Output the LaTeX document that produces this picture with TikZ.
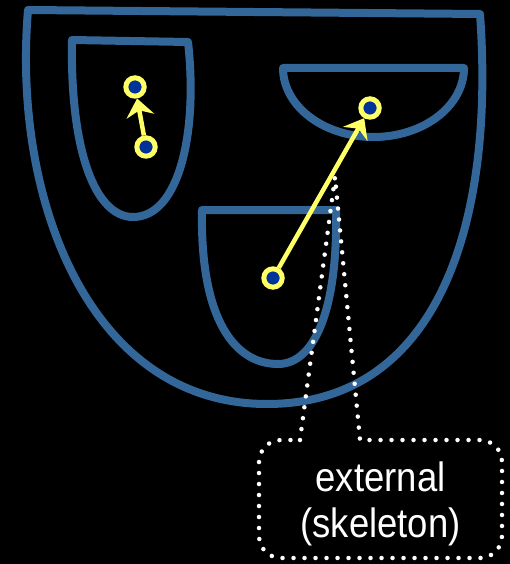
\documentclass[tikz,border=0pt]{standalone}
\usepackage{fontspec}
\newfontfamily\calloutfont[FakeStretch=0.89]{Liberation Sans}
\usetikzlibrary{arrows.meta}
\definecolor{rimblue}{RGB}{52,103,153}
\definecolor{coreblue}{RGB}{0,51,153}
\definecolor{markyellow}{RGB}{255,255,102}
\tikzset{
  rim/.style={draw=rimblue, line width=8pt, line join=round, line cap=round},
  site/.style={circle, draw=markyellow, fill=coreblue, line width=5pt,
    minimum size=18.4pt, inner sep=0pt},
  link/.style={draw=markyellow, line width=4.5pt,
    -{Stealth[length=18pt, width=28pt, inset=6pt]}},
  dotline/.style={draw=white, line width=4.5pt, line cap=round,
    dash pattern=on 0pt off 11pt},
  calloutlabel/.style={text=white, inner sep=0pt,
    font=\calloutfont\fontsize{41}{45}\selectfont},
}
\begin{document}
\begin{tikzpicture}[x=1pt, y=-1pt]
  % canvas
  \useasboundingbox (0,0) rectangle (510,564);
  \fill[black] (0,0) rectangle (510,564);

  % outer region
  \draw[rim] (480,14) -- (28,10)
    .. controls (12,200) and (90,404) .. (267,404)
    .. controls (440,404) and (495,220) .. (480,14) -- cycle;

  % left inner region
  \draw[rim] (188,42) -- (72,40)
    .. controls (70,150) and (95,217) .. (133,217)
    .. controls (180,217) and (198,130) .. (188,42) -- cycle;

  % right inner region
  \draw[rim] (283,68) -- (464,68)
    plot[domain=0:180, samples=60] ({373.5+90.5*cos(\x)}, {68+69*sin(\x)})
    -- cycle;

  % middle inner region
  \draw[rim] (336,210) -- (202,210)
    .. controls (200,320) and (235,364) .. (278,364)
    .. controls (318,364) and (338,300) .. (336,210) -- cycle;

  % sites
  \node[site] (sA) at (135,87) {};
  \node[site] (sB) at (146,147) {};
  \node[site] (sC) at (370,108) {};
  \node[site] (sD) at (273,278) {};

  % links between sites
  \draw[link] (sB) -- (sA);
  \draw[link] (sD) -- (sC);

  % callout
  \coordinate (tip) at (335,177);
  \draw[dotline] (300,440) -- (tip) -- (360,440) -- (480,440)
    .. controls (492.15,440) and (502,449.85) .. (502,462) -- (502,536)
    .. controls (502,548.15) and (492.15,558) .. (480,558) -- (281,558)
    .. controls (268.85,558) and (259,548.15) .. (259,536) -- (259,462)
    .. controls (259,449.85) and (268.85,440) .. (281,440) -- (300,440);
  \node[calloutlabel, anchor=base] (ext1) at (380.5,491.7) {external};
  \node[calloutlabel, anchor=base] (ext2) at (380.5,537) {(skeleton)};
\end{tikzpicture}
\end{document}
